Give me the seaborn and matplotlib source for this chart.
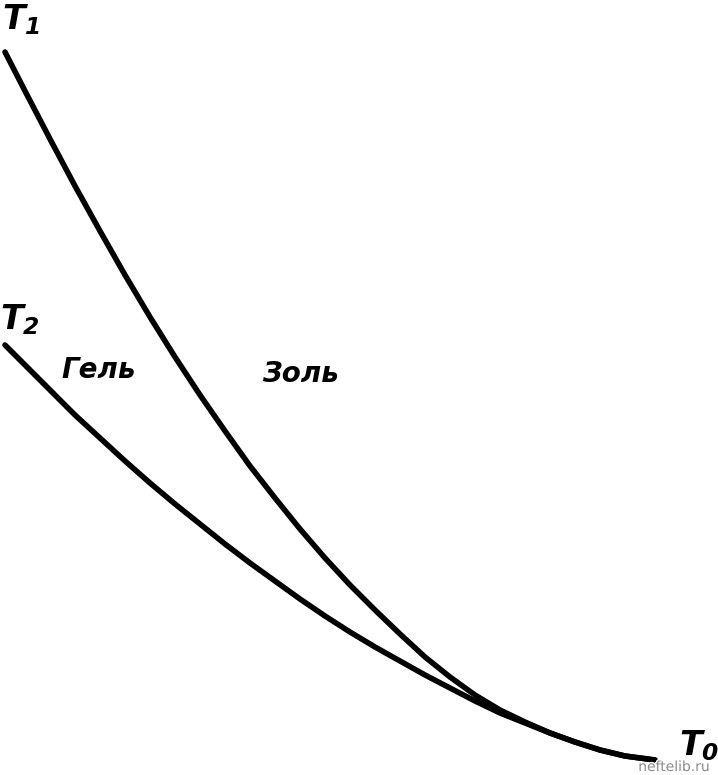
import matplotlib
matplotlib.use("Agg")
import matplotlib.pyplot as plt
import matplotlib.patheffects as pe
import seaborn as sns
import pandas as pd

# Curve T1 (sol boundary) (pixel-like units, y downward)
sol_x = [5, 25, 50, 75, 100, 125, 150, 175, 200, 225, 250, 275, 300, 325, 350,
         375, 400, 425, 450, 475, 500, 525, 550, 575, 600, 625, 655]
sol_y = [52, 91, 139, 186, 231, 275, 317, 357, 395, 431, 466, 498, 529, 558, 585,
         610, 634, 657, 677, 695, 710, 722, 733, 742, 750, 756, 760]

# Curve T2 (gel boundary)
gel_x = [5, 25, 50, 75, 100, 125, 150, 175, 200, 225, 250, 275, 300, 325, 350,
         375, 400, 425, 450, 475, 500, 525, 550, 575, 600, 625, 655]
gel_y = [345, 365, 390, 415, 438, 461, 483, 504, 524, 544, 563, 581, 599, 616, 632,
         647, 661, 675, 688, 701, 713, 723, 733, 742, 750, 756, 760]

labels = ["$T_1$", "$T_2$", "Гель", "Золь", "$T_0$"]

df = pd.concat([
    pd.DataFrame({"x": sol_x, "y": sol_y, "curve": "T1"}),
    pd.DataFrame({"x": gel_x, "y": gel_y, "curve": "T2"}),
])

sns.set_style("white")
plt.rcParams["font.family"] = ["DejaVu Sans"]
plt.rcParams["mathtext.fontset"] = "custom"
plt.rcParams["mathtext.it"] = "DejaVu Sans:italic:bold"
plt.rcParams["mathtext.rm"] = "DejaVu Sans:italic:bold"
plt.rcParams["mathtext.bf"] = "DejaVu Sans:italic:bold"

fig = plt.figure(figsize=(7.18, 7.75), dpi=100)
ax = fig.add_axes([0, 0, 1, 1])
sns.lineplot(data=df, x="x", y="y", hue="curve", palette=["black", "black"],
             sort=False, estimator=None, linewidth=4, legend=False, ax=ax)
for ln in ax.lines:
    ln.set_solid_capstyle("round")
    ln.set_solid_joinstyle("round")

ax.set_xlim(0, 718)
ax.set_ylim(775, 0)
ax.axis("off")

tkw = dict(fontsize=24, color="black", ha="center", va="center")
ax.text(21, 20, labels[0], **tkw)
ax.text(20, 320, labels[1], **tkw)
wkw = dict(fontsize=20, fontweight="bold", fontstyle="italic", color="black",
           ha="center", va="center")
ax.text(99, 370, labels[2], **wkw)
ax.text(300, 374, labels[3], **wkw)
ax.text(699, 746, labels[4], **tkw)

ax.text(674, 767, "neftelib.ru", fontsize=10, color="#8a8a8a", ha="center", va="center",
        path_effects=[pe.withStroke(linewidth=2, foreground="white")])

fig.savefig("out.png", dpi=100)
